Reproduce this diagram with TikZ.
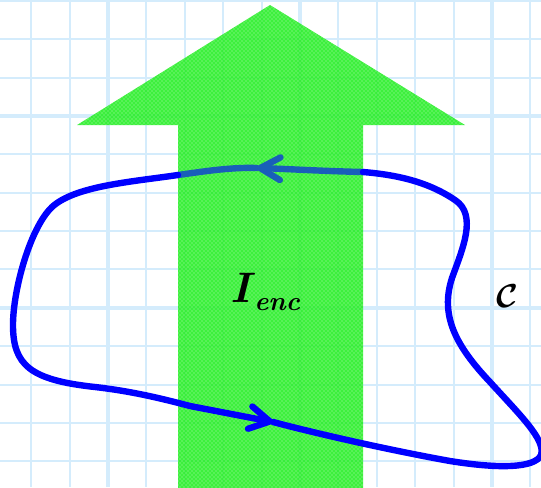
\documentclass[tikz,border=0pt]{standalone}
\usepackage{bm}
\usetikzlibrary{arrows.meta,patterns}
\definecolor{gridblue}{RGB}{212,236,252}
\definecolor{arrowgreen}{RGB}{40,238,40}
\definecolor{loopblue}{RGB}{0,0,255}
\definecolor{loopdim}{RGB}{25,95,185}
\tikzset{
  gridthin/.style={draw=gridblue, line width=1.5pt},
  gridthick/.style={draw=gridblue, line width=3pt},
  currentarrow/.style={fill=arrowgreen, fill opacity=0.9},
  currenttexture/.style={pattern=crosshatch dots, pattern color=white, opacity=0.6},
  loopline/.style={draw=loopblue, line width=4.8pt, line cap=round, line join=round},
  loopdimline/.style={draw=loopdim, line width=4.8pt, line cap=round, line join=round},
  barbtip/.style={-{Straight Barb[length=15pt,width=17pt,round]}},
  labeltext/.style={inner sep=0pt, text=black}
}
\begin{document}
\begin{tikzpicture}[x=0.75pt,y=-0.75pt]
\useasboundingbox (0,0) rectangle (541,487);
\clip (0,0) rectangle (541,487);
% grid
\foreach \k in {0,...,13} {
  \draw[gridthin] ({31.2+38.4*\k},0) -- ({31.2+38.4*\k},487);
}
\foreach \k in {0,...,12} {
  \draw[gridthin] (0,{1+38.35*\k}) -- (541,{1+38.35*\k});
}
\foreach \xx in {108,300,492} { \draw[gridthick] (\xx,0) -- (\xx,487); }
\foreach \yy in {116,307.7} { \draw[gridthick] (0,\yy) -- (541,\yy); }
% green current arrow
\path[currentarrow] (178,490) -- (178,125) -- (77,125) -- (270,5) -- (465,125) -- (363,125) -- (363,490) -- cycle;
\path[currenttexture] (178,490) -- (178,125) -- (77,125) -- (270,5) -- (465,125) -- (363,125) -- (363,490) -- cycle;
% top part of the loop, seen through the current
\draw[loopdimline, barbtip] (363,172) .. controls (320,171) and (290,169) .. (257,168);
\draw[loopdimline] (257,168) .. controls (230,167) and (200,172) .. (178,175);
% rest of the loop
\draw[loopline, barbtip] (178,175) .. controls (130,182) and (75,186) .. (52,207)
  .. controls (30,228) and (13,290) .. (13,325)
  .. controls (13,365) and (30,380) .. (95,387)
  .. controls (130,391) and (160,398) .. (190,406) -- (273,422);
\draw[loopline] (273,422) .. controls (330,437) and (400,452) .. (450,461)
  .. controls (500,469) and (535,468) .. (541,455)
  .. controls (546,440) and (520,415) .. (490,382)
  .. controls (455,345) and (440,315) .. (452,278)
  .. controls (462,250) and (478,215) .. (455,200)
  .. controls (430,183) and (400,175) .. (363,172);
% labels
\node[labeltext, anchor=base west] (Ilabel) at (230,302) {\fontsize{32}{32}\selectfont\bfseries\itshape I};
\node[labeltext, anchor=base west] (enclabel) at (254,310) {\fontsize{20}{20}\selectfont\bfseries\itshape enc};
\node[labeltext] (Clabel) at (507,296) {\fontsize{33}{33}\selectfont $\bm{\mathcal{C}}$};
\end{tikzpicture}
\end{document}
